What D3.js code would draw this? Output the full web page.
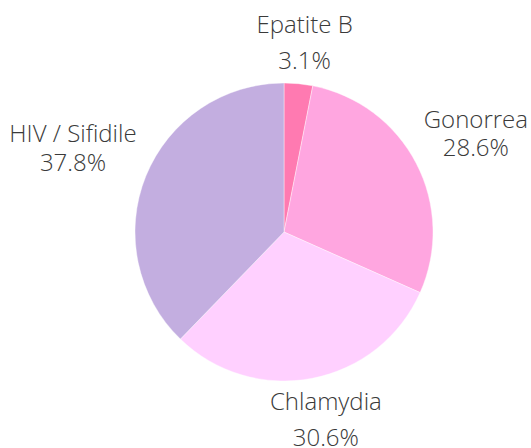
<!DOCTYPE html>
<html>
<head>
  <meta charset="utf-8" />
  <script src="https://d3js.org/d3.v7.min.js"></script>
  <style>
    body { margin: 0; padding: 0; background: #ffffff; }
    .lbl { font-family: "Open Sans", sans-serif; font-weight: 300; font-size: 24px; fill: #3a3a3a; }
  </style>
</head>
<body>
  <svg id="pie" width="531" height="448"></svg>
  <script>
    // data, clockwise from 12 o'clock
    const labels = ["Epatite B", "Gonorrea", "Chlamydia", "HIV / Sifidile"];
    const shares = [3.1, 28.6, 30.6, 37.8];
    const colors = ["#ff7ab1", "#ffa6e0", "#ffd0ff", "#c3aee0"];

    const svg = d3.select("#pie");
    const cx = 284, cy = 232, r = 149;
    const g = svg.append("g").attr("transform", `translate(${cx},${cy})`);

    const data = labels.map((l, i) => ({ label: l, value: shares[i], color: colors[i] }));
    const pie = d3.pie().sort(null).value(d => d.value);
    const arc = d3.arc().innerRadius(0).outerRadius(r);
    const arcs = pie(data);

    g.selectAll("path")
      .data(arcs)
      .enter()
      .append("path")
      .attr("d", arc)
      .attr("fill", d => d.data.color)
      .attr("stroke", "#fff")
      .attr("stroke-width", 0.4);

    // outside labels, anchored at a point just beyond the rim
    const labelArc = d3.arc().innerRadius(r + 15).outerRadius(r + 15);
    const capH = 17;
    arcs.forEach(d => {
      const a = (d.startAngle + d.endAngle) / 2;
      const sx = Math.sin(a), sy = -Math.cos(a);
      const [px, py] = labelArc.centroid(d);
      const spacing = 27 + 9 * sy * sy;
      const lg = g.append("g");
      const t1 = lg.append("text").attr("class", "lbl").attr("text-anchor", "middle").text(d.data.label);
      const t2 = lg.append("text").attr("class", "lbl").attr("text-anchor", "middle").text(d.data.value.toFixed(1) + "%");
      const w = Math.max(t1.node().getComputedTextLength(), t2.node().getComputedTextLength());
      const x = px + sx * w / 2;
      let y1, y2;
      if (sy < 0) { y2 = py; y1 = py - spacing; }
      else { y1 = py + capH; y2 = y1 + spacing; }
      t1.attr("x", x).attr("y", y1);
      t2.attr("x", x).attr("y", y2);
    });
  </script>
</body>
</html>
